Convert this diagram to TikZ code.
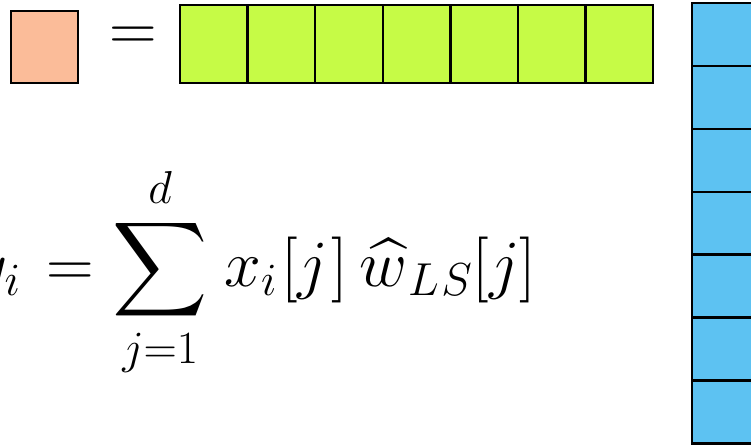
\RequirePackage{fix-cm}
\documentclass[tikz,border=0pt]{standalone}
\usepackage{amsmath,amssymb}
\definecolor{scalarpeach}{RGB}{251,188,153}
\definecolor{rowgreen}{RGB}{198,251,70}
\definecolor{colblue}{RGB}{93,194,242}
\usetikzlibrary{positioning}

\begin{document}
\begin{tikzpicture}[
    x=0.5pt, y=-0.5pt,
    cell/.style={draw=black, line width=1.2pt, inner sep=0pt, outer sep=0pt,
                 minimum width=33.8pt, minimum height=39pt},
    bigmath/.style={font=\fontsize{33}{40}\selectfont, inner sep=0pt}
  ]
  \useasboundingbox (0,0) rectangle (751,445);
  \clip (0,0) rectangle (751,445);

  %% --- Scalar ---
  \node[cell, fill=scalarpeach, minimum width=33.5pt, minimum height=36pt] (yhat) at (44.5,47) {};
  \node[bigmath] (eqtop) at (133.5,39) {$=$};

  %% --- Row vector ---
  \node[cell, fill=rowgreen, anchor=north west] (g1) at (180,5) {};
  \foreach \i [count=\j from 1] in {2,...,7}
    \node[cell, fill=rowgreen, right=0pt of g\j] (g\i) {};

  %% --- Column vector ---
  \node[cell, fill=colblue, anchor=north west, minimum width=40pt, minimum height=31.45pt] (b1) at (692,3) {};
  \foreach \i [count=\j from 1] in {2,...,7}
    \node[cell, fill=colblue, minimum width=40pt, minimum height=31.45pt, below=0pt of b\j] (b\i) {};

  %% --- Prediction formula ---
  \node[bigmath, anchor=base west] (formula) at (28,286)
    {$\displaystyle \llap{$y_i\mkern2mu$}= \sum_{j=1}^{d}\mkern1.5mu x_i\mkern1mu[j\mkern1mu]\mkern3mu\widehat{w}_{\mkern1mu L\mkern1mu S}[j]$};
\end{tikzpicture}
\end{document}
